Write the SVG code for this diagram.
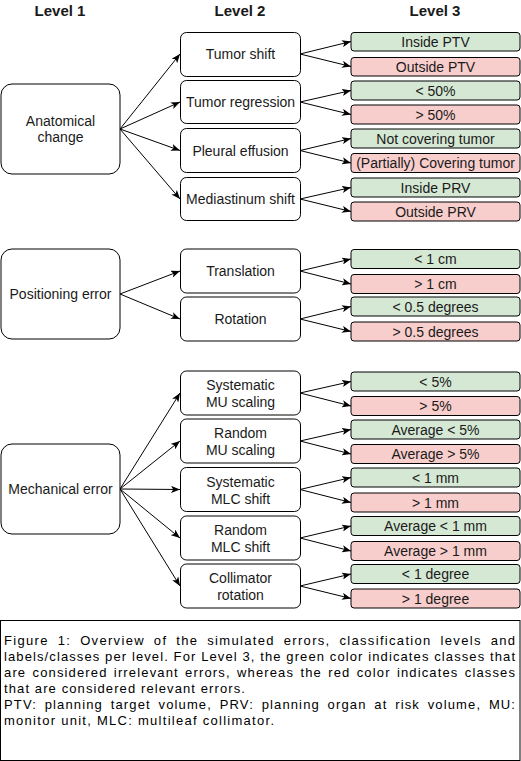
<svg xmlns="http://www.w3.org/2000/svg" width="521" height="761" viewBox="0 0 521 761">
<style>
text{font-family:"Liberation Sans",Arial,sans-serif;fill:#1a1a1a}
.h{font-size:15px;font-weight:bold;text-anchor:middle}
.t{font-size:14px;text-anchor:middle}
.l1{fill:#fff;stroke:#000;stroke-width:1}
.l2{fill:#fff;stroke:#000;stroke-width:1}
.g{fill:#d5e8d4;stroke:#000;stroke-width:1}
.r{fill:#f8cecc;stroke:#000;stroke-width:1}
.e{stroke:#000;stroke-width:1;fill:none;marker-end:url(#arr)}
.c{font-family:"Liberation Sans",Arial,sans-serif;font-size:13px;fill:#000}
</style>
<defs>
<marker id="arr" viewBox="0 0 10 8" refX="10" refY="4" markerWidth="9" markerHeight="7.2" orient="auto" markerUnits="userSpaceOnUse">
<path d="M0,0 L10,4 L0,8 L2.5,4 z" fill="#000"/>
</marker>
</defs>
<rect width="521" height="761" fill="#fff"/>
<g id="headers">
<text class="h" x="60" y="16">Level 1</text>
<text class="h" x="240" y="16">Level 2</text>
<text class="h" x="435" y="16">Level 3</text>
</g>
<g id="connectors">
<line class="e" x1="120" y1="129" x2="180" y2="54"/>
<line class="e" x1="120" y1="129" x2="180" y2="102"/>
<line class="e" x1="120" y1="129" x2="180" y2="150.5"/>
<line class="e" x1="120" y1="129" x2="180" y2="199"/>
<line class="e" x1="300" y1="54" x2="351" y2="41.5"/>
<line class="e" x1="300" y1="54" x2="351" y2="66.5"/>
<line class="e" x1="300" y1="102" x2="351" y2="90.5"/>
<line class="e" x1="300" y1="102" x2="351" y2="114.5"/>
<line class="e" x1="300" y1="150.5" x2="351" y2="138.5"/>
<line class="e" x1="300" y1="150.5" x2="351" y2="163"/>
<line class="e" x1="300" y1="199" x2="351" y2="187.5"/>
<line class="e" x1="300" y1="199" x2="351" y2="211.5"/>
<line class="e" x1="120" y1="294" x2="180" y2="271"/>
<line class="e" x1="120" y1="294" x2="180" y2="319"/>
<line class="e" x1="300" y1="271" x2="351" y2="259"/>
<line class="e" x1="300" y1="271" x2="351" y2="284"/>
<line class="e" x1="300" y1="319" x2="351" y2="306.5"/>
<line class="e" x1="300" y1="319" x2="351" y2="331.5"/>
<line class="e" x1="120" y1="489" x2="180" y2="393"/>
<line class="e" x1="120" y1="489" x2="180" y2="441"/>
<line class="e" x1="120" y1="489" x2="180" y2="489.5"/>
<line class="e" x1="120" y1="489" x2="180" y2="538"/>
<line class="e" x1="120" y1="489" x2="180" y2="586"/>
<line class="e" x1="300" y1="393" x2="351" y2="381.5"/>
<line class="e" x1="300" y1="393" x2="351" y2="406"/>
<line class="e" x1="300" y1="441" x2="351" y2="429.5"/>
<line class="e" x1="300" y1="441" x2="351" y2="454"/>
<line class="e" x1="300" y1="489.5" x2="351" y2="477.5"/>
<line class="e" x1="300" y1="489.5" x2="351" y2="502.5"/>
<line class="e" x1="300" y1="538" x2="351" y2="526"/>
<line class="e" x1="300" y1="538" x2="351" y2="551"/>
<line class="e" x1="300" y1="586" x2="351" y2="574"/>
<line class="e" x1="300" y1="586" x2="351" y2="598.5"/>
</g>
<g id="anatomical-change"><rect class="l1" x="1" y="84" width="119" height="90" rx="11"/><text class="t" x="60.5" y="126">Anatomical</text><text class="t" x="60.5" y="142">change</text></g>
<g id="tumor-shift"><rect class="l2" x="180.5" y="32.5" width="120" height="44" rx="6"/><text class="t" x="240.5" y="59">Tumor shift</text></g>
<g id="tumor-regression"><rect class="l2" x="180.5" y="80.5" width="120" height="43" rx="6"/><text class="t" x="240.5" y="107">Tumor regression</text></g>
<g id="pleural-effusion"><rect class="l2" x="180.5" y="128.5" width="120" height="44" rx="6"/><text class="t" x="240.5" y="155.5">Pleural effusion</text></g>
<g id="mediastinum-shift"><rect class="l2" x="180.5" y="177.5" width="120" height="43" rx="6"/><text class="t" x="240.5" y="204">Mediastinum shift</text></g>
<g id="inside-ptv"><rect class="g" x="351" y="32.5" width="169" height="18.5" rx="3"/><text class="t" x="435.5" y="46.5">Inside PTV</text></g>
<g id="outside-ptv"><rect class="r" x="351" y="57.5" width="169" height="18.5" rx="3"/><text class="t" x="435.5" y="71.5">Outside PTV</text></g>
<g id="lt-50"><rect class="g" x="351" y="81" width="169" height="19" rx="3"/><text class="t" x="435.5" y="95.5">&lt; 50%</text></g>
<g id="gt-50"><rect class="r" x="351" y="105" width="169" height="19" rx="3"/><text class="t" x="435.5" y="119.5">&gt; 50%</text></g>
<g id="not-covering"><rect class="g" x="351" y="129" width="169" height="19" rx="3"/><text class="t" x="435.5" y="143.5">Not covering tumor</text></g>
<g id="partially-covering"><rect class="r" x="351" y="153.5" width="169" height="19" rx="3"/><text class="t" x="435.5" y="168">(Partially) Covering tumor</text></g>
<g id="inside-prv"><rect class="g" x="351" y="178" width="169" height="19" rx="3"/><text class="t" x="435.5" y="192.5">Inside PRV</text></g>
<g id="outside-prv"><rect class="r" x="351" y="202" width="169" height="19" rx="3"/><text class="t" x="435.5" y="216.5">Outside PRV</text></g>
<g id="positioning-error"><rect class="l1" x="1" y="249" width="119" height="90" rx="11"/><text class="t" x="60.5" y="299">Positioning error</text></g>
<g id="translation"><rect class="l2" x="180.5" y="249" width="120" height="44" rx="6"/><text class="t" x="240.5" y="276">Translation</text></g>
<g id="rotation"><rect class="l2" x="180.5" y="297" width="120" height="44" rx="6"/><text class="t" x="240.5" y="324">Rotation</text></g>
<g id="lt-1cm"><rect class="g" x="351" y="249.5" width="169" height="19" rx="3"/><text class="t" x="435.5" y="264">&lt; 1 cm</text></g>
<g id="gt-1cm"><rect class="r" x="351" y="274.5" width="169" height="19" rx="3"/><text class="t" x="435.5" y="289">&gt; 1 cm</text></g>
<g id="lt-05deg"><rect class="g" x="351" y="297" width="169" height="19" rx="3"/><text class="t" x="435.5" y="311.5">&lt; 0.5 degrees</text></g>
<g id="gt-05deg"><rect class="r" x="351" y="322" width="169" height="19" rx="3"/><text class="t" x="435.5" y="336.5">&gt; 0.5 degrees</text></g>
<g id="mechanical-error"><rect class="l1" x="1" y="444" width="119" height="90" rx="11"/><text class="t" x="60.5" y="494">Mechanical error</text></g>
<g id="systematic-mu"><rect class="l2" x="180.5" y="371" width="120" height="44" rx="6"/><text class="t" x="240.5" y="390">Systematic</text><text class="t" x="240.5" y="407">MU scaling</text></g>
<g id="random-mu"><rect class="l2" x="180.5" y="419" width="120" height="44" rx="6"/><text class="t" x="240.5" y="438">Random</text><text class="t" x="240.5" y="455">MU scaling</text></g>
<g id="systematic-mlc"><rect class="l2" x="180.5" y="467.5" width="120" height="44" rx="6"/><text class="t" x="240.5" y="486.5">Systematic</text><text class="t" x="240.5" y="503.5">MLC shift</text></g>
<g id="random-mlc"><rect class="l2" x="180.5" y="516" width="120" height="44" rx="6"/><text class="t" x="240.5" y="535">Random</text><text class="t" x="240.5" y="552">MLC shift</text></g>
<g id="collimator-rotation"><rect class="l2" x="180.5" y="564" width="120" height="44" rx="6"/><text class="t" x="240.5" y="583">Collimator</text><text class="t" x="240.5" y="600">rotation</text></g>
<g id="lt-5"><rect class="g" x="351" y="372" width="169" height="19" rx="3"/><text class="t" x="435.5" y="386.5">&lt; 5%</text></g>
<g id="gt-5"><rect class="r" x="351" y="396.5" width="169" height="19" rx="3"/><text class="t" x="435.5" y="411">&gt; 5%</text></g>
<g id="avg-lt-5"><rect class="g" x="351" y="420" width="169" height="19" rx="3"/><text class="t" x="435.5" y="434.5">Average &lt; 5%</text></g>
<g id="avg-gt-5"><rect class="r" x="351" y="444.5" width="169" height="19" rx="3"/><text class="t" x="435.5" y="459">Average &gt; 5%</text></g>
<g id="lt-1mm"><rect class="g" x="351" y="468" width="169" height="19" rx="3"/><text class="t" x="435.5" y="482.5">&lt; 1 mm</text></g>
<g id="gt-1mm"><rect class="r" x="351" y="493" width="169" height="19" rx="3"/><text class="t" x="435.5" y="507.5">&gt; 1 mm</text></g>
<g id="avg-lt-1mm"><rect class="g" x="351" y="516.5" width="169" height="19" rx="3"/><text class="t" x="435.5" y="531">Average &lt; 1 mm</text></g>
<g id="avg-gt-1mm"><rect class="r" x="351" y="541.5" width="169" height="19" rx="3"/><text class="t" x="435.5" y="556">Average &gt; 1 mm</text></g>
<g id="lt-1deg"><rect class="g" x="351" y="564.5" width="169" height="19" rx="3"/><text class="t" x="435.5" y="579">&lt; 1 degree</text></g>
<g id="gt-1deg"><rect class="r" x="351" y="589" width="169" height="19" rx="3"/><text class="t" x="435.5" y="603.5">&gt; 1 degree</text></g>
<g id="caption">
<rect x="0.5" y="620.5" width="519.5" height="140" fill="#fff" stroke="#000" stroke-width="1"/>
<text class="c" x="4" y="645" word-spacing="4" textLength="511" lengthAdjust="spacing">Figure 1: Overview of the simulated errors, classification levels and</text>
<text class="c" x="4" y="661" textLength="511" lengthAdjust="spacing">labels/classes per level. For Level 3, the green color indicates classes that</text>
<text class="c" x="4" y="677" word-spacing="1.5" textLength="511" lengthAdjust="spacing">are considered irrelevant errors, whereas the red color indicates classes</text>
<text class="c" x="4" y="693" textLength="241" lengthAdjust="spacing">that are considered relevant errors.</text>
<text class="c" x="4" y="709" word-spacing="3" textLength="511" lengthAdjust="spacing">PTV: planning target volume, PRV: planning organ at risk volume, MU:</text>
<text class="c" x="4" y="725" textLength="270" lengthAdjust="spacing">monitor unit, MLC: multileaf collimator.</text>
</g>
</svg>
